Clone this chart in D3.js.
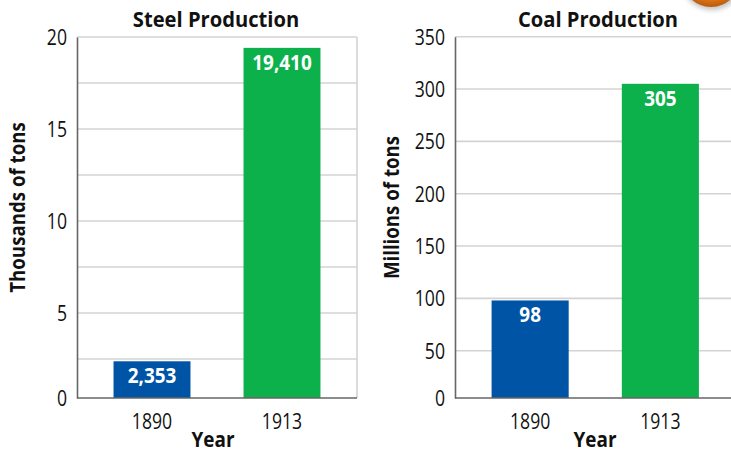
<!DOCTYPE html>
<html>
<head>
<meta charset="utf-8">
<script src="https://cdn.jsdelivr.net/npm/d3@7"></script>
<style>
  html, body { margin: 0; padding: 0; background: #fff; }
  svg { display: block; }
  text { font-family: "Open Sans", "Noto Sans", sans-serif; fill: #111; }
</style>
</head>
<body>
<svg id="chart" width="731" height="452"></svg>
<script>
// ---- data ----
const years = ["1890", "1913"];
const steelValues = [2.353, 19.41];          // thousands of tons (axis units)
const steelLabels = ["2,353", "19,410"];
const steelTicks = [0, 5, 10, 15, 20];
const steelGrid = [2.5, 5, 7.5, 10, 12.5, 15, 17.5, 20];
const coalValues = [98, 305];                // millions of tons
const coalLabels = ["98", "305"];
const coalTicks = [0, 50, 100, 150, 200, 250, 300, 350];
const coalGrid = [50, 100, 150, 200, 250, 300, 350];
const barColors = ["#0054a6", "#0db14b"];

const svg = d3.select("#chart");
const SX = 0.84;

// decorative orange disc in the corner
const defs = svg.append("defs");
const rg = defs.append("radialGradient").attr("id", "og").attr("cx", "50%").attr("cy", "35%").attr("r", "65%");
rg.append("stop").attr("offset", "0%").attr("stop-color", "#f7a046");
rg.append("stop").attr("offset", "75%").attr("stop-color", "#e97a1c");
rg.append("stop").attr("offset", "100%").attr("stop-color", "#b85a0c");
defs.append("filter").attr("id", "blur").append("feGaussianBlur").attr("stdDeviation", 2.5);
svg.append("ellipse").attr("cx", 712).attr("cy", -19).attr("rx", 30).attr("ry", 29)
  .attr("fill", "#888").attr("opacity", 0.5).attr("filter", "url(#blur)");
svg.append("ellipse").attr("cx", 711).attr("cy", -22).attr("rx", 29).attr("ry", 29)
  .attr("fill", "url(#og)");

function drawPanel(cfg) {
  const g = svg.append("g");
  const y = d3.scaleLinear().domain(cfg.domain).range(cfg.range);
  const x = d3.scaleBand().domain(years).range([cfg.left, cfg.right])
    .paddingInner(0.408).paddingOuter(0.281);
  const top = y(cfg.domain[cfg.domain.length - 1]);
  const base = y(0);

  // gridlines
  g.append("g").selectAll("line").data(cfg.grid).join("line")
    .attr("x1", cfg.left).attr("x2", cfg.gridEnd)
    .attr("y1", d => y(d)).attr("y2", d => y(d))
    .attr("stroke", "#d3d3d3").attr("stroke-width", 1.6);
  if (cfg.rightBorder) {
    g.append("line").attr("x1", cfg.gridEnd).attr("x2", cfg.gridEnd)
      .attr("y1", top).attr("y2", base)
      .attr("stroke", "#d3d3d3").attr("stroke-width", 1.6);
  }

  // bars
  g.append("g").selectAll("rect").data(cfg.values).join("rect")
    .attr("x", (d, i) => x(years[i]))
    .attr("width", x.bandwidth())
    .attr("y", d => y(d))
    .attr("height", d => base - y(d))
    .attr("fill", (d, i) => barColors[i]);

  // value labels
  g.append("g").selectAll("text").data(cfg.values).join("text")
    .attr("transform", (d, i) => `translate(${x(years[i]) + x.bandwidth() / 2},${y(d) + 22}) scale(0.86,1)`)
    .attr("text-anchor", "middle")
    .style("font-size", "22px").style("font-weight", "700").style("fill", "#fff")
    .text((d, i) => cfg.labels[i]);

  // y axis
  const ya = g.append("g").attr("transform", `translate(${cfg.left},0)`)
    .call(d3.axisLeft(y).tickValues(cfg.ticks).tickSize(0).tickPadding(10).tickFormat(d3.format("d")));
  ya.select(".domain").attr("stroke", "#666").attr("stroke-width", 1.6);
  ya.selectAll(".tick text")
    .attr("x", 0).attr("dy", "0.36em")
    .attr("transform", `translate(-10,0) scale(${SX},1)`)
    .style("font-size", "21px").style("fill", "#111").style("font-family", "'Open Sans', sans-serif");

  // x axis
  const xa = g.append("g").attr("transform", `translate(0,${base})`)
    .call(d3.axisBottom(x).tickSize(0).tickPadding(0));
  xa.select(".domain").attr("d", `M${cfg.left},0H${cfg.gridEnd}`).attr("stroke", "#666").attr("stroke-width", 1.6);
  xa.selectAll(".tick text")
    .attr("y", 0).attr("dy", 0)
    .attr("transform", `translate(0,31) scale(${SX},1)`)
    .style("font-size", "21px").style("fill", "#111").style("font-family", "'Open Sans', sans-serif");

  // title
  g.append("text").attr("transform", `translate(${cfg.titleX},26.5) scale(0.96,1)`)
    .attr("text-anchor", "middle").style("font-size", "21px").style("font-weight", "700")
    .text(cfg.title);
  // y label
  g.append("text").attr("transform", `translate(${cfg.yLabelX},207.5) rotate(-90) scale(0.89,1)`)
    .attr("text-anchor", "middle").style("font-size", "21px").style("font-weight", "700")
    .text(cfg.yLabel);
  // x label
  g.append("text").attr("transform", `translate(${cfg.xLabelX},447) scale(0.9,1)`)
    .attr("text-anchor", "middle").style("font-size", "21px").style("font-weight", "700")
    .text("Year");
}

drawPanel({
  domain: [0, 2.5, 20], range: [398, 359, 37],
  left: 77, right: 357, gridEnd: 357, rightBorder: true,
  values: steelValues, labels: steelLabels, ticks: steelTicks, grid: steelGrid,
  title: "Steel Production", titleX: 216, yLabel: "Thousands of tons", yLabelX: 25, xLabelX: 213
});
drawPanel({
  domain: [0, 50, 350], range: [398, 350.7, 36.7],
  left: 455, right: 735.5, gridEnd: 731, rightBorder: false,
  values: coalValues, labels: coalLabels, ticks: coalTicks, grid: coalGrid,
  title: "Coal Production", titleX: 598, yLabel: "Millions of tons", yLabelX: 399, xLabelX: 595
});
</script>
</body>
</html>
